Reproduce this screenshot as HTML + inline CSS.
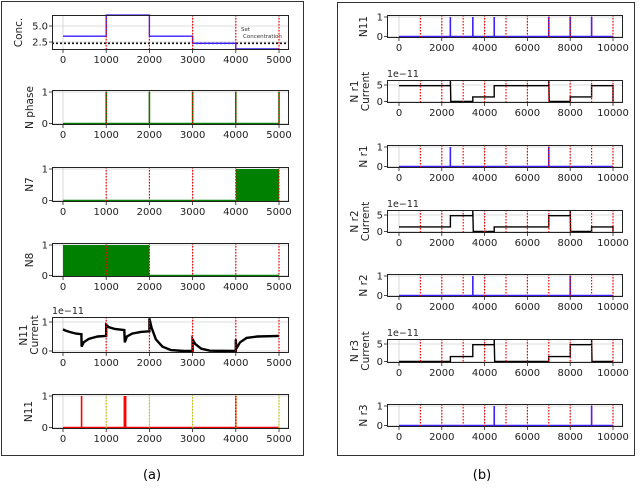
<!DOCTYPE html>
<html><head><meta charset="utf-8">
<style>
html,body{margin:0;padding:0;background:#fff;}
svg text{font-family:"DejaVu Sans","Liberation Sans",sans-serif;}
</style></head>
<body>
<svg id="fig" width="640" height="490" viewBox="0 0 640 490" xmlns="http://www.w3.org/2000/svg">
<rect x="1.5" y="1.5" width="302" height="454" fill="none" stroke="#333" stroke-width="1"/>
<rect x="337.5" y="2.5" width="297" height="453" fill="none" stroke="#333" stroke-width="1"/>
<text x="152" y="479" font-size="13" text-anchor="middle" font-family="Liberation Serif,serif">(a)</text>
<text x="482" y="479" font-size="13" text-anchor="middle" font-family="Liberation Serif,serif">(b)</text>
</svg>
<script>
// ---- data ----
const leftXTicks = [0,1000,2000,3000,4000,5000];
const rightXTicks = [0,2000,4000,6000,8000,10000];
const leftMarkers = [1000,2000,3000,4000,5000];
const rightMarkers = [1000,2000,3000,4000,5000,6000,7000,8000,9000,10000];
const concSteps = [[0,3.4],[1000,6.7],[2000,3.4],[3000,2.3],[4000,1.4],[5000,1.4]];
const setConcentration = 2.3;
const nPhaseSpikes = [1000,2000,3000,4000,5000];
const n7Filled = [[4000,5000]];
const n8Filled = [[0,2000]];
const n11CurrentPts = [[0,0.75],[60,0.7],[150,0.66],[300,0.6],[425,0.58],[430,0.15],[480,0.3],[600,0.42],[800,0.5],[1000,0.52],[1000,0.9],[1060,0.82],[1200,0.76],[1420,0.72],[1430,0.3],[1480,0.5],[1600,0.6],[1800,0.66],[2000,0.68],[2000,1.12],[2050,0.8],[2150,0.4],[2300,0.15],[2500,0.03],[2800,0],[3000,0],[3000,0.4],[3060,0.24],[3200,0.08],[3400,0.01],[4000,0],[4000,0.4],[4010,0.08],[4100,0.3],[4250,0.45],[4500,0.5],[5000,0.52]];
const n11LeftSpikes = [430,1420,1450,4000];
const n11RightSpikes = [2400,3450,4450,7000,8000,9000];
const nr1Spikes = [2400,7000];
const nr2Spikes = [3450,8000];
const nr3Spikes = [4450,9000];
const nr1Current = [[0,4.8],[2400,4.8],[2400,6.4],[2420,0],[3450,0],[3450,1.4],[4450,1.4],[4450,4.8],[7000,4.8],[7000,6.4],[7020,0],[8000,0],[8000,1.4],[9000,1.4],[9000,4.8],[10000,4.8],[10000,0]];
const nr2Current = [[0,1.4],[2400,1.4],[2400,4.8],[3450,4.8],[3450,6.4],[3470,0],[4450,0],[4450,1.4],[7000,1.4],[7000,4.8],[8000,4.8],[8000,6.4],[8020,0],[9000,0],[9000,1.4],[10000,1.4],[10000,0]];
const nr3Current = [[0,0],[2400,0],[2400,1.4],[3450,1.4],[3450,4.8],[4450,4.8],[4450,6.4],[4470,0],[7000,0],[7000,1.4],[8000,1.4],[8000,4.8],[9000,4.8],[9000,6.4],[9020,0],[10000,0]];

const NS="http://www.w3.org/2000/svg";
const fig=document.getElementById('fig');
function mk(tag,attrs,parent){const e=document.createElementNS(NS,tag);for(const k in attrs)e.setAttribute(k,attrs[k]);(parent||fig).appendChild(e);return e;}

function panel(o){
  const g=mk('g',{});
  
  
  const sx=v=>o.x0+(v-o.xmin)*(o.x1-o.x0)/(o.xmax-o.xmin);
  const sy=v=>o.yb+(v-o.ylo)*(o.ya-o.yb)/(o.yhi-o.ylo);
  const bg=mk('rect',{x:o.L,y:o.T,width:o.R-o.L,height:o.B-o.T,fill:'#fff'},g);
  
  o.yticks.forEach(t=>{const l=mk('line',{x1:o.L,x2:o.R,y1:sy(t),y2:sy(t),stroke:'#d0d0d0','stroke-width':0.8},g);
    });
  o.xticks.forEach(t=>{const l=mk('line',{x1:sx(t),x2:sx(t),y1:o.T,y2:o.B,stroke:'#d0d0d0','stroke-width':0.8},g);
    });
  o.draw(g,sx,sy);
  o.markers.forEach(m=>{const l=mk('line',{x1:sx(m),x2:sx(m),y1:o.T,y2:o.B,stroke:o.markerColor||'#ff0000','stroke-width':1.2,'stroke-dasharray':'1.5,1.5'},g);
    });
  const fr=mk('rect',{x:o.L+0.5,y:o.T+0.5,width:o.R-o.L-1,height:o.B-o.T-1,fill:'none',stroke:'#222','stroke-width':1},g);
  
  o.xticks.forEach(t=>{const l=mk('line',{x1:sx(t),x2:sx(t),y1:o.B,y2:o.B+3,stroke:'#222','stroke-width':0.8},g);
    
    const tx=mk('text',{x:sx(t),y:o.B+13,'font-size':10,'text-anchor':'middle',fill:'#222'},g);tx.textContent=t;
    });
  o.yticks.forEach((t,i)=>{const l=mk('line',{x1:o.L-3,x2:o.L,y1:sy(t),y2:sy(t),stroke:'#222','stroke-width':0.8},g);
    
    const tx=mk('text',{x:o.L-4,y:sy(t)+3.5,'font-size':10,'text-anchor':'end',fill:'#222'},g);tx.textContent=o.ylabels[i];
    });
  const cy=(o.T+o.B)/2;
  o.ytitle.forEach((s,i)=>{const n=o.ytitle.length;const xx=o.titleX+(i-(n-1))*11;
    const tx=mk('text',{x:xx,y:cy,'font-size':10.5,'text-anchor':'middle',fill:'#222',transform:`rotate(-90 ${xx} ${cy})`},g);tx.textContent=s;
    });
  if(o.offset){const tx=mk('text',{x:o.L,y:o.T-3,'font-size':9.5,fill:'#222'},g);tx.textContent=o.offset;
    }
  return o;
}
function poly(g,pts,sx,sy,color,w,name){const d=pts.map(p=>sx(p[0]).toFixed(1)+','+sy(p[1]).toFixed(1)).join(' ');
  const p=mk('polyline',{points:d,fill:'none',stroke:color,'stroke-width':w,'stroke-linejoin':'miter'},g);
  return p;}
function stepPts(steps){const r=[];steps.forEach((s,i)=>{if(i>0)r.push([s[0],steps[i-1][1]]);r.push(s);});return r;}
function spikes(g,arr,xmin,xmax,sx,sy,color,name){
  poly(g,[[xmin,0],[xmax,0]],sx,sy,color,1.6,'baseline');
  arr.forEach(v=>{const l=mk('line',{x1:sx(v),x2:sx(v),y1:sy(0),y2:sy(1),stroke:color,'stroke-width':1.6},g);
    });
}
function fills(g,arr,xmin,xmax,sx,sy,color){
  poly(g,[[xmin,0],[xmax,0]],sx,sy,color,1.6,'baseline');
  arr.forEach(r=>{const e=mk('rect',{x:sx(r[0]),y:sy(1),width:sx(r[1])-sx(r[0]),height:sy(0)-sy(1),fill:color},g);
    });
}
const LB={L:52,R:289,x0:63,x1:279,xmin:0,xmax:5000,xticks:leftXTicks,markers:leftMarkers,titleX:33};
const RB={L:387,R:623,x0:399,x1:613,xmin:0,xmax:10000,xticks:rightXTicks,markers:rightMarkers,titleX:367};
function bin(base,T,B){return Object.assign({},base,{T,B,ylo:0,yhi:1,yb:B-1.5,ya:T+2,yticks:[0,1],ylabels:['0','1']});}
function cur(base,T,B){return Object.assign({},base,{T,B,ylo:0,yhi:5,yb:B-1.5,ya:T+5,yticks:[0,5],ylabels:['0','5'],offset:'1e\u221211',titleX:369});}

const G='#008000',BL='#3a1fff';
panel(Object.assign({},LB,{name:'conc-chart',titleX:22,T:15,B:50,ylo:2.5,yhi:5,yb:42,ya:26,yticks:[2.5,5.0],ylabels:['2.5','5.0'],ytitle:['Conc.'],
  draw:(g,sx,sy)=>{
    const l=mk('line',{x1:52,x2:289,y1:sy(setConcentration),y2:sy(setConcentration),stroke:'#111','stroke-width':1.6,'stroke-dasharray':'2,2'},g);
    
    poly(g,stepPts(concSteps),sx,sy,BL,1.4,'concentration-line');
    const t1=mk('text',{x:241,y:31,'font-size':5.5,fill:'#333'},g);t1.textContent='Set';
    
    const t2=mk('text',{x:243,y:38,'font-size':5.5,fill:'#333'},g);t2.textContent='Concentration';
    
  }}));
panel(Object.assign(bin(LB,90,125),{name:'n-phase-chart',ytitle:['N phase'],draw:(g,sx,sy)=>spikes(g,nPhaseSpikes,0,5000,sx,sy,G,'phase-spike')}));
panel(Object.assign(bin(LB,167,202),{name:'n7-chart',ytitle:['N7'],draw:(g,sx,sy)=>fills(g,n7Filled,0,5000,sx,sy,G)}));
panel(Object.assign(bin(LB,243,277),{name:'n8-chart',ytitle:['N8'],draw:(g,sx,sy)=>fills(g,n8Filled,0,5000,sx,sy,G)}));
panel(Object.assign({},LB,{name:'n11-current-chart',titleX:38,T:317,B:353,ylo:0,yhi:1,yb:351,ya:322,yticks:[0,1],ylabels:['0','1'],offset:'1e\u221211',ytitle:['N11','Current'],
  draw:(g,sx,sy)=>poly(g,n11CurrentPts,sx,sy,'#000',2.4,'n11-current-line')}));
panel(Object.assign(bin(LB,394,429),{name:'n11-spike-chart',titleX:32,ytitle:['N11'],markerColor:'#c8c800',draw:(g,sx,sy)=>spikes(g,n11LeftSpikes,0,5000,sx,sy,'#ff0000','n11-spike')}));
panel(Object.assign(bin(RB,15,38),{name:'n11-right-chart',ytitle:['N11'],draw:(g,sx,sy)=>spikes(g,n11RightSpikes,0,10000,sx,sy,BL,'n11-spike')}));
panel(Object.assign(cur(RB,80,103),{name:'nr1-current-chart',ytitle:['N r1','Current'],draw:(g,sx,sy)=>poly(g,nr1Current,sx,sy,'#000',1.4,'nr1-current-line')}));
panel(Object.assign(bin(RB,145,168),{name:'nr1-chart',ytitle:['N r1'],draw:(g,sx,sy)=>spikes(g,nr1Spikes,0,10000,sx,sy,BL,'nr1-spike')}));
panel(Object.assign(cur(RB,210,233),{name:'nr2-current-chart',ytitle:['N r2','Current'],draw:(g,sx,sy)=>poly(g,nr2Current,sx,sy,'#000',1.4,'nr2-current-line')}));
panel(Object.assign(bin(RB,274,297),{name:'nr2-chart',ytitle:['N r2'],draw:(g,sx,sy)=>spikes(g,nr2Spikes,0,10000,sx,sy,BL,'nr2-spike')}));
panel(Object.assign(cur(RB,339,363),{name:'nr3-current-chart',ytitle:['N r3','Current'],draw:(g,sx,sy)=>poly(g,nr3Current,sx,sy,'#000',1.4,'nr3-current-line')}));
panel(Object.assign(bin(RB,404,427),{name:'nr3-chart',ytitle:['N r3'],draw:(g,sx,sy)=>spikes(g,nr3Spikes,0,10000,sx,sy,BL,'nr3-spike')}));
</script>
</body></html>
